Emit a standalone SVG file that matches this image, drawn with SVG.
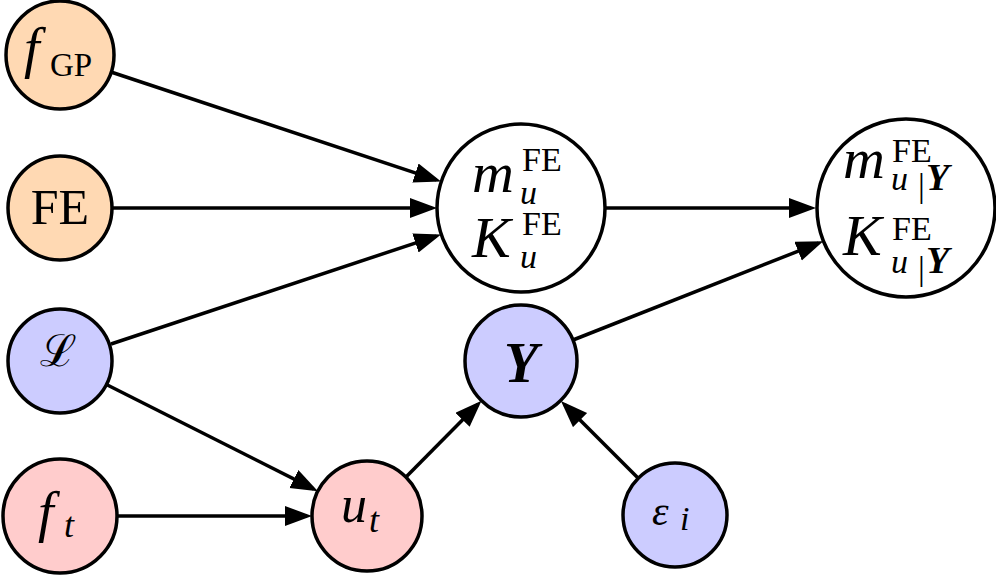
<svg xmlns="http://www.w3.org/2000/svg" width="996" height="576" viewBox="0 0 996 576">
<style>
.n{stroke:#000;stroke-width:3.5}
.or{fill:#FFD9B3}.bl{fill:#CCCCFF}.rd{fill:#FFCCCC}.wh{fill:#fff}
text{font-family:"Liberation Serif","Times New Roman",serif;fill:#000}
.i{font-style:italic}
.b{font-weight:bold;font-style:italic}
.e{stroke:#000;stroke-width:3.5;fill:none;marker-end:url(#ah)}
</style>
<defs>
<marker id="ah" markerUnits="userSpaceOnUse" markerWidth="28" markerHeight="22" refX="22" refY="10" orient="auto">
<path d="M0,0 L27,10 L0,20 z" fill="#000"/>
</marker>
</defs>
<g id="connectors">
<line class="e" x1="111" y1="72" x2="436.3" y2="179.9"/>
<line class="e" x1="112" y1="208" x2="432" y2="208"/>
<line class="e" x1="111" y1="344" x2="436.3" y2="236.1"/>
<line class="e" x1="106.4" y1="384.5" x2="313.5" y2="488.9"/>
<line class="e" x1="117" y1="516" x2="307" y2="516"/>
<line class="e" x1="406" y1="477" x2="478" y2="404.2"/>
<line class="e" x1="638" y1="478" x2="564.5" y2="404.5"/>
<line class="e" x1="573" y1="340" x2="818.6" y2="243.1"/>
<line class="e" x1="605" y1="208" x2="811" y2="208"/>
</g>
<g id="fGP">
<circle class="n or" cx="60" cy="55" r="54"/>
<text class="i" x="24" y="67" font-size="56">f</text>
<text x="50" y="76" font-size="33">GP</text>
</g>
<g id="FE">
<circle class="n or" cx="60" cy="208" r="52"/>
<text x="60" y="224" font-size="50" text-anchor="middle">FE</text>
</g>
<g id="L">
<circle class="n bl" cx="60" cy="361" r="52"/>
<text x="58" y="366" font-size="44" text-anchor="middle" font-family="DejaVu Serif">ℒ</text>
</g>
<g id="ft">
<circle class="n rd" cx="60" cy="516" r="57"/>
<text class="i" x="38" y="531" font-size="56">f</text>
<text class="i" x="64" y="537" font-size="36">t</text>
</g>
<g id="ut">
<circle class="n rd" cx="367" cy="516" r="55"/>
<text class="i" x="341" y="522" font-size="52">u</text>
<text class="i" x="369" y="532" font-size="36">t</text>
</g>
<g id="Y">
<circle class="n bl" cx="521" cy="361" r="56"/>
<text class="b" x="521" y="382" font-size="56" text-anchor="middle">Y</text>
</g>
<g id="eps">
<circle class="n bl" cx="675" cy="515" r="52"/>
<text class="i" x="652" y="525" font-size="42">ε</text>
<text class="i" x="680" y="530" font-size="34">i</text>
</g>
<g id="mu">
<circle class="n wh" cx="521" cy="208" r="84"/>
<text class="i" x="472" y="192" font-size="58">m</text>
<text x="522" y="171" font-size="34">FE</text>
<text class="i" x="520" y="204" font-size="34">u</text>
<text class="i" x="472" y="257" font-size="58">K</text>
<text x="522" y="235" font-size="34">FE</text>
<text class="i" x="520" y="268" font-size="34">u</text>
</g>
<g id="muY">
<circle class="n wh" cx="906" cy="208" r="89"/>
<text class="i" x="843" y="178" font-size="58">m</text>
<text x="892" y="162" font-size="34">FE</text>
<text class="i" x="891" y="190" font-size="34">u</text>
<text x="918" y="197" font-size="34">|</text>
<text class="b" x="926" y="190" font-size="38">Y</text>
<text class="i" x="843" y="255" font-size="58">K</text>
<text x="892" y="240" font-size="34">FE</text>
<text class="i" x="891" y="273" font-size="34">u</text>
<text x="918" y="280" font-size="34">|</text>
<text class="b" x="926" y="273" font-size="38">Y</text>
</g>
</svg>
